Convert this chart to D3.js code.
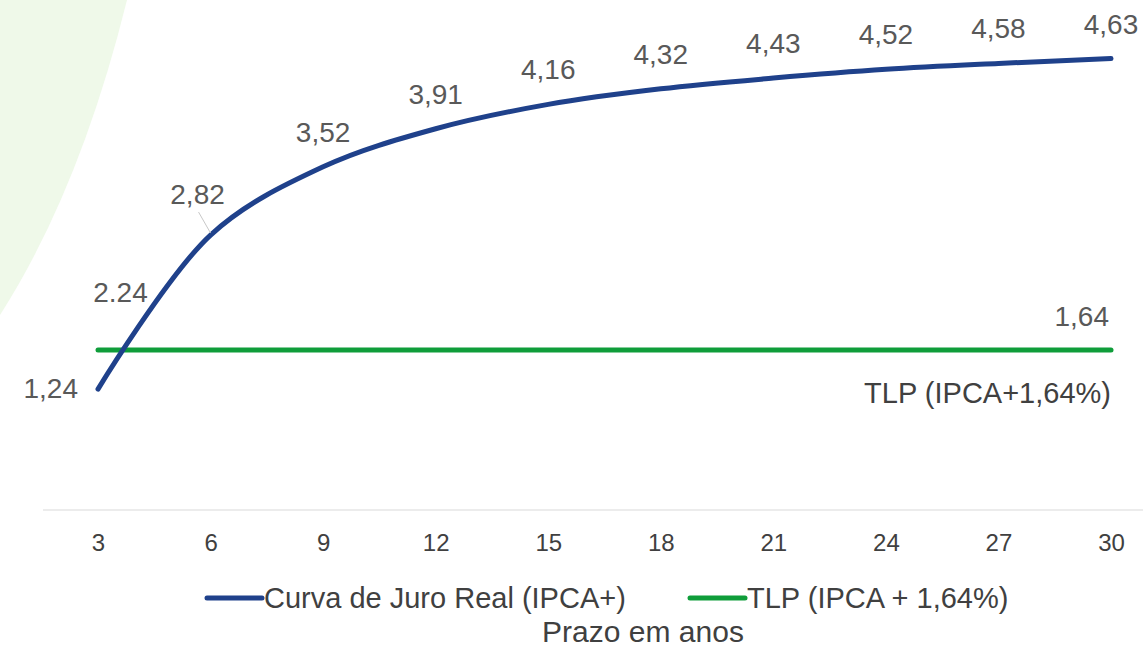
<html>
<head>
<style>
    body { margin: 0; background: #ffffff; }
    svg text { font-family: 'Liberation Sans', Arial, sans-serif; }
</style>
</head>
<body>
<div id="chart"></div>
<script src="https://cdn.jsdelivr.net/npm/d3@7"></script>
<script>
    // data
    var anos = [3, 6, 9, 12, 15, 18, 21, 24, 27, 30];
    var curva_juro = [1.24, 2.82, 3.52, 3.91, 4.16, 4.32, 4.43, 4.52, 4.58, 4.63];
    var tlp = [1.64, 1.64, 1.64, 1.64, 1.64, 1.64, 1.64, 1.64, 1.64, 1.64];
    var serie_nomes = ['Curva de Juro Real (IPCA+)', 'TLP (IPCA + 1,64%)'];
    var nota_224 = { ano: 3.6, valor: 2.24, texto: '2.24' };
    var nota_tlp = 'TLP (IPCA+1,64%)';
    var eixo_titulo = 'Prazo em anos';

    var width = 1143,
        height = 649;

    var azul = '#1f418b',
        verde = '#0f9d3a',
        cinza_label = '#595959',
        cinza_tick = '#404040';

    var fmt = function(v){ return d3.format('.2f')(v).replace('.', ','); };

    var x = d3.scaleLinear()
        .domain([3, 30])
        .range([98, 1111]);

    var y = d3.scaleLinear()
        .domain([0, 5])
        .range([510, 22.5]);

    var svg = d3.select('#chart')
        .append('svg')
        .attr('width', width)
        .attr('height', height);

    // light green decoration on the left
    svg.append('path')
        .attr('d', 'M0,0 L127,0 Q80,190 0,315 Z')
        .attr('fill', '#eff9e9');

    // axis
    var axis = svg.append('g')
        .attr('transform', 'translate(0,' + y(0) + ')')
        .call(d3.axisBottom(x).tickValues(anos).tickSize(0).tickPadding(24).tickFormat(d3.format('d')));
    axis.select('.domain').remove();
    axis.append('line')
        .attr('x1', x(3) - 55)
        .attr('x2', width)
        .attr('stroke', '#e6e6e6')
        .attr('stroke-width', 1.5);
    axis.selectAll('.tick text')
        .attr('font-size', 24)
        .attr('fill', cinza_tick)
        .attr('font-family', "'Liberation Sans', Arial, sans-serif");

    var pts_curva = anos.map(function(a, i){ return [a, curva_juro[i]]; });
    var pts_tlp = anos.map(function(a, i){ return [a, tlp[i]]; });

    var line = d3.line()
        .x(function(d){ return x(d[0]); })
        .y(function(d){ return y(d[1]); })
        .curve(d3.curveCatmullRom.alpha(0.5));

    svg.append('path')
        .datum(pts_tlp)
        .attr('d', line)
        .attr('fill', 'none')
        .attr('stroke', verde)
        .attr('stroke-width', 5)
        .attr('stroke-linecap', 'round');

    svg.append('path')
        .datum(pts_curva)
        .attr('d', line)
        .attr('fill', 'none')
        .attr('stroke', azul)
        .attr('stroke-width', 5)
        .attr('stroke-linecap', 'round');

    // data labels of the blue curve
    svg.selectAll('text.lbl')
        .data(pts_curva)
        .enter().append('text')
        .attr('class', 'lbl')
        .attr('x', function(d, i){
            if(i == 0) return x(d[0]) - 20;
            if(i == 1) return x(d[0]) - 13;
            return x(d[0]);
        })
        .attr('y', function(d, i){
            if(i == 0) return y(d[1]) + 9;
            if(i == 1) return y(d[1]) - 31;
            return y(d[1]) - 25;
        })
        .attr('text-anchor', function(d, i){ return i == 0 ? 'end' : 'middle'; })
        .attr('font-size', 28)
        .attr('fill', cinza_label)
        .text(function(d){ return fmt(d[1]); });

    // leader line for 2,82
    svg.append('line')
        .attr('x1', x(anos[1]) - 12)
        .attr('y1', y(curva_juro[1]) - 23)
        .attr('x2', x(anos[1]))
        .attr('y2', y(curva_juro[1]) - 2)
        .attr('stroke', '#c8c8c8')
        .attr('stroke-width', 1);

    // manual 2.24 note
    svg.append('text')
        .attr('x', x(nota_224.ano))
        .attr('y', y(nota_224.valor) + 10)
        .attr('text-anchor', 'middle')
        .attr('font-size', 28)
        .attr('fill', cinza_label)
        .text(nota_224.texto);

    // TLP end label + note
    svg.append('text')
        .attr('x', x(anos[anos.length - 1]) - 2)
        .attr('y', y(tlp[tlp.length - 1]) - 24)
        .attr('text-anchor', 'end')
        .attr('font-size', 28)
        .attr('fill', cinza_label)
        .text(fmt(tlp[tlp.length - 1]));

    svg.append('text')
        .attr('x', x(anos[anos.length - 1]))
        .attr('y', y(tlp[tlp.length - 1]) + 53)
        .attr('text-anchor', 'end')
        .attr('font-size', 29)
        .attr('fill', '#404040')
        .text(nota_tlp);

    // legend
    var legend = svg.append('g').attr('transform', 'translate(0,598)');
    var leg_x = [207, 690];
    var leg_cor = [azul, verde];
    serie_nomes.forEach(function(nome, i){
        legend.append('line')
            .attr('x1', leg_x[i])
            .attr('x2', leg_x[i] + 55)
            .attr('stroke', leg_cor[i])
            .attr('stroke-width', 5)
            .attr('stroke-linecap', 'round');
        legend.append('text')
            .attr('x', leg_x[i] + 57)
            .attr('y', 10)
            .attr('font-size', 29)
            .attr('fill', '#404040')
            .text(nome);
    });

    svg.append('text')
        .attr('x', 643)
        .attr('y', 642)
        .attr('text-anchor', 'middle')
        .attr('font-size', 30)
        .attr('fill', '#404040')
        .text(eixo_titulo);
</script>
</body>
</html>
